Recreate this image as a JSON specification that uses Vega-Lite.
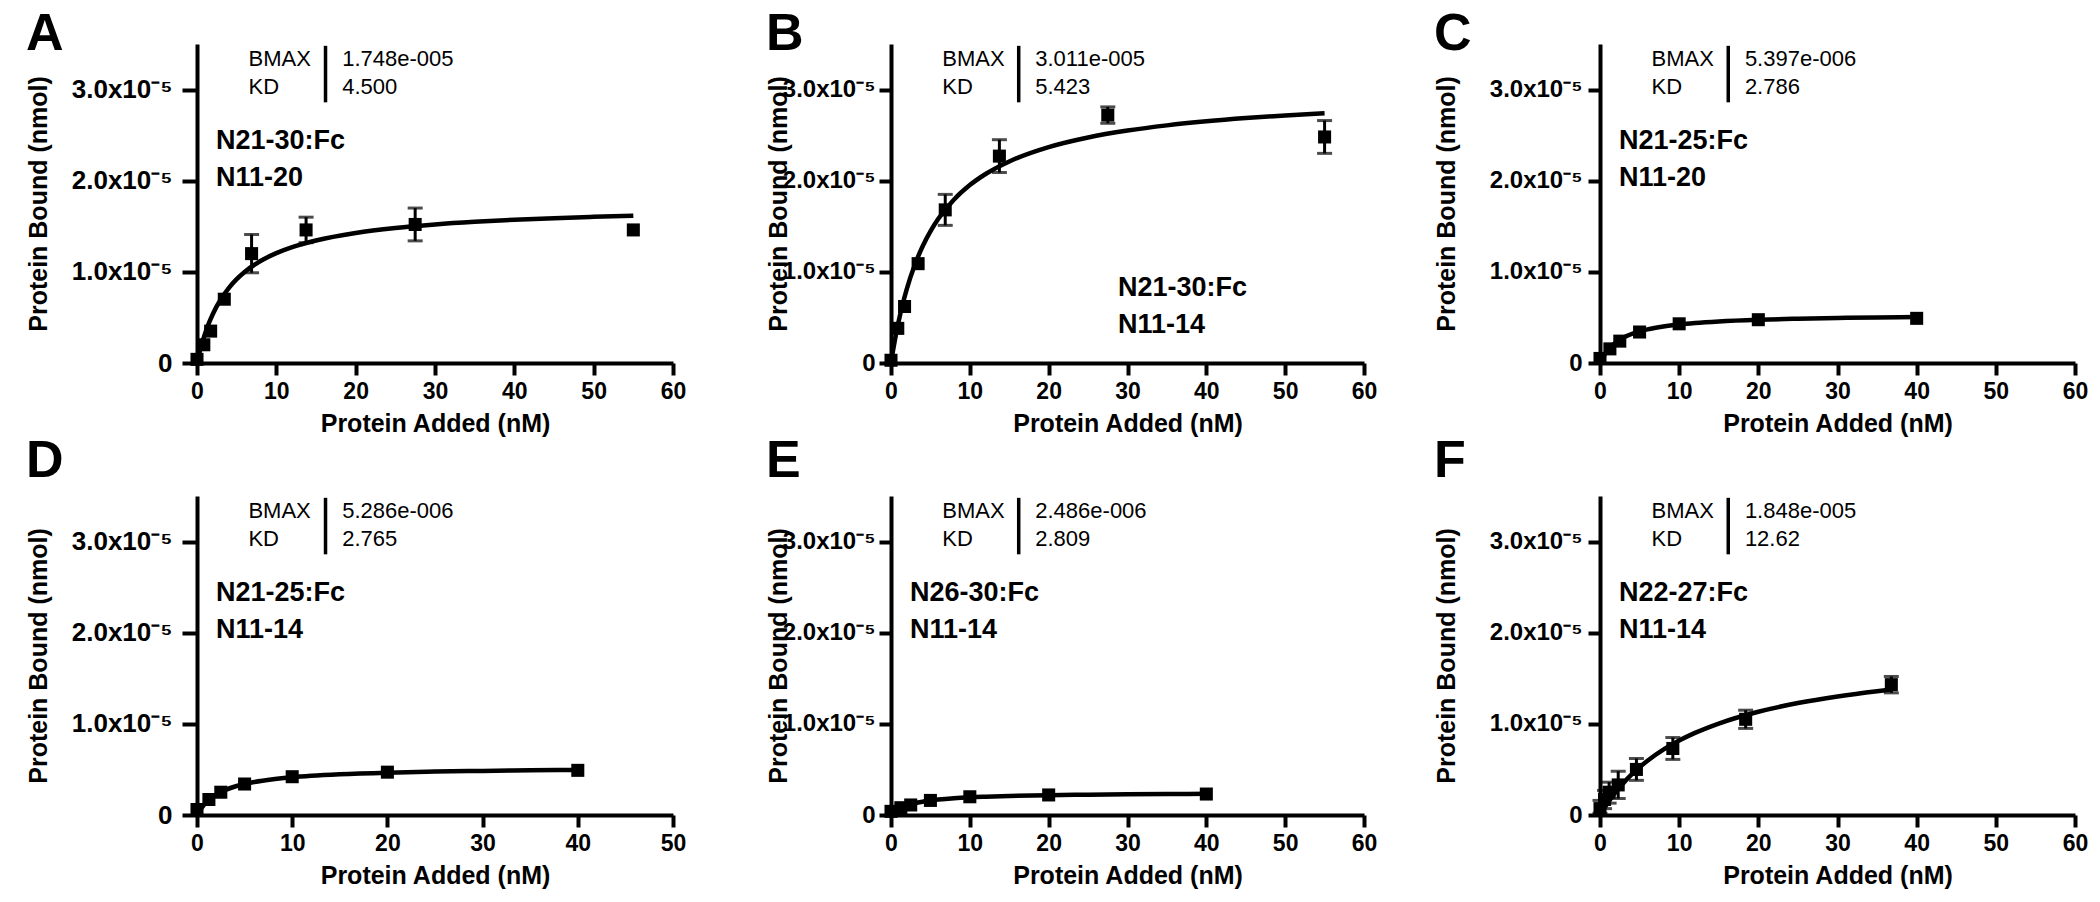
{
  "$schema": "https://vega.github.io/schema/vega-lite/v6.json",
  "background": "white",
  "padding": {"left": 25, "top": 8, "right": 5, "bottom": 5},
  "datasets": {
    "points": [
      {"panel": "A", "conc": 0, "bound": 0.04e-5, "lo": null, "hi": null},
      {"panel": "A", "conc": 0.86, "bound": 0.2e-5, "lo": null, "hi": null},
      {"panel": "A", "conc": 1.72, "bound": 0.35e-5, "lo": null, "hi": null},
      {"panel": "A", "conc": 3.44, "bound": 0.7e-5, "lo": null, "hi": null},
      {"panel": "A", "conc": 6.88, "bound": 1.2e-5, "lo": 0.99e-5, "hi": 1.41e-5},
      {"panel": "A", "conc": 13.75, "bound": 1.46e-5, "lo": 1.32e-5, "hi": 1.6e-5},
      {"panel": "A", "conc": 27.5, "bound": 1.52e-5, "lo": 1.34e-5, "hi": 1.7e-5},
      {"panel": "A", "conc": 55, "bound": 1.46e-5, "lo": null, "hi": null},
      {"panel": "B", "conc": 0, "bound": 0.03e-5, "lo": null, "hi": null},
      {"panel": "B", "conc": 0.86, "bound": 0.38e-5, "lo": null, "hi": null},
      {"panel": "B", "conc": 1.72, "bound": 0.62e-5, "lo": null, "hi": null},
      {"panel": "B", "conc": 3.44, "bound": 1.09e-5, "lo": null, "hi": null},
      {"panel": "B", "conc": 6.88, "bound": 1.68e-5, "lo": 1.51e-5, "hi": 1.85e-5},
      {"panel": "B", "conc": 13.75, "bound": 2.27e-5, "lo": 2.09e-5, "hi": 2.45e-5},
      {"panel": "B", "conc": 27.5, "bound": 2.72e-5, "lo": 2.63e-5, "hi": 2.81e-5},
      {"panel": "B", "conc": 55, "bound": 2.48e-5, "lo": 2.3e-5, "hi": 2.66e-5},
      {"panel": "C", "conc": 0, "bound": 0.05e-5, "lo": null, "hi": null},
      {"panel": "C", "conc": 1.25, "bound": 0.155e-5, "lo": null, "hi": null},
      {"panel": "C", "conc": 2.5, "bound": 0.24e-5, "lo": null, "hi": null},
      {"panel": "C", "conc": 5, "bound": 0.34e-5, "lo": null, "hi": null},
      {"panel": "C", "conc": 10, "bound": 0.43e-5, "lo": null, "hi": null},
      {"panel": "C", "conc": 20, "bound": 0.475e-5, "lo": null, "hi": null},
      {"panel": "C", "conc": 40, "bound": 0.49e-5, "lo": null, "hi": null},
      {"panel": "D", "conc": 0, "bound": 0.06e-5, "lo": null, "hi": null},
      {"panel": "D", "conc": 1.25, "bound": 0.17e-5, "lo": null, "hi": null},
      {"panel": "D", "conc": 2.5, "bound": 0.25e-5, "lo": null, "hi": null},
      {"panel": "D", "conc": 5, "bound": 0.34e-5, "lo": null, "hi": null},
      {"panel": "D", "conc": 10, "bound": 0.42e-5, "lo": null, "hi": null},
      {"panel": "D", "conc": 20, "bound": 0.47e-5, "lo": null, "hi": null},
      {"panel": "D", "conc": 40, "bound": 0.49e-5, "lo": null, "hi": null},
      {"panel": "E", "conc": 0, "bound": 0.04e-5, "lo": null, "hi": null},
      {"panel": "E", "conc": 1.25, "bound": 0.08e-5, "lo": null, "hi": null},
      {"panel": "E", "conc": 2.5, "bound": 0.11e-5, "lo": null, "hi": null},
      {"panel": "E", "conc": 5, "bound": 0.16e-5, "lo": null, "hi": null},
      {"panel": "E", "conc": 10, "bound": 0.2e-5, "lo": null, "hi": null},
      {"panel": "E", "conc": 20, "bound": 0.22e-5, "lo": null, "hi": null},
      {"panel": "E", "conc": 40, "bound": 0.23e-5, "lo": null, "hi": null},
      {"panel": "F", "conc": 0, "bound": 0.07e-5, "lo": 0.02e-5, "hi": 0.16e-5},
      {"panel": "F", "conc": 0.575, "bound": 0.17e-5, "lo": 0.07e-5, "hi": 0.27e-5},
      {"panel": "F", "conc": 1.15, "bound": 0.25e-5, "lo": 0.13e-5, "hi": 0.36e-5},
      {"panel": "F", "conc": 2.3, "bound": 0.33e-5, "lo": 0.18e-5, "hi": 0.48e-5},
      {"panel": "F", "conc": 4.6, "bound": 0.5e-5, "lo": 0.38e-5, "hi": 0.62e-5},
      {"panel": "F", "conc": 9.2, "bound": 0.73e-5, "lo": 0.61e-5, "hi": 0.85e-5},
      {"panel": "F", "conc": 18.4, "bound": 1.05e-5, "lo": 0.95e-5, "hi": 1.15e-5},
      {"panel": "F", "conc": 36.8, "bound": 1.43e-5, "lo": 1.34e-5, "hi": 1.52e-5}
    ],
    "fit": [
      {"panel": "A", "conc": 0, "bound": 0},
      {"panel": "A", "conc": 0.25, "bound": 0.092e-5},
      {"panel": "A", "conc": 0.5, "bound": 0.1748e-5},
      {"panel": "A", "conc": 1, "bound": 0.3178e-5},
      {"panel": "A", "conc": 1.5, "bound": 0.437e-5},
      {"panel": "A", "conc": 2, "bound": 0.5378e-5},
      {"panel": "A", "conc": 3, "bound": 0.6992e-5},
      {"panel": "A", "conc": 4, "bound": 0.8226e-5},
      {"panel": "A", "conc": 5, "bound": 0.92e-5},
      {"panel": "A", "conc": 6, "bound": 0.9989e-5},
      {"panel": "A", "conc": 8, "bound": 1.1187e-5},
      {"panel": "A", "conc": 10, "bound": 1.2055e-5},
      {"panel": "A", "conc": 12, "bound": 1.2713e-5},
      {"panel": "A", "conc": 15, "bound": 1.3446e-5},
      {"panel": "A", "conc": 20, "bound": 1.4269e-5},
      {"panel": "A", "conc": 25, "bound": 1.4814e-5},
      {"panel": "A", "conc": 30, "bound": 1.52e-5},
      {"panel": "A", "conc": 35, "bound": 1.5489e-5},
      {"panel": "A", "conc": 40, "bound": 1.5712e-5},
      {"panel": "A", "conc": 45, "bound": 1.5891e-5},
      {"panel": "A", "conc": 50, "bound": 1.6037e-5},
      {"panel": "A", "conc": 55, "bound": 1.6158e-5},
      {"panel": "B", "conc": 0, "bound": 0},
      {"panel": "B", "conc": 0.25, "bound": 0.1327e-5},
      {"panel": "B", "conc": 0.5, "bound": 0.2542e-5},
      {"panel": "B", "conc": 1, "bound": 0.4688e-5},
      {"panel": "B", "conc": 1.5, "bound": 0.6524e-5},
      {"panel": "B", "conc": 2, "bound": 0.8113e-5},
      {"panel": "B", "conc": 3, "bound": 1.0724e-5},
      {"panel": "B", "conc": 4, "bound": 1.2781e-5},
      {"panel": "B", "conc": 5, "bound": 1.4444e-5},
      {"panel": "B", "conc": 6, "bound": 1.5816e-5},
      {"panel": "B", "conc": 8, "bound": 1.7945e-5},
      {"panel": "B", "conc": 10, "bound": 1.9523e-5},
      {"panel": "B", "conc": 12, "bound": 2.0738e-5},
      {"panel": "B", "conc": 15, "bound": 2.2115e-5},
      {"panel": "B", "conc": 20, "bound": 2.3687e-5},
      {"panel": "B", "conc": 25, "bound": 2.4743e-5},
      {"panel": "B", "conc": 30, "bound": 2.55e-5},
      {"panel": "B", "conc": 35, "bound": 2.6071e-5},
      {"panel": "B", "conc": 40, "bound": 2.6515e-5},
      {"panel": "B", "conc": 45, "bound": 2.6872e-5},
      {"panel": "B", "conc": 50, "bound": 2.7164e-5},
      {"panel": "B", "conc": 55, "bound": 2.7408e-5},
      {"panel": "C", "conc": 0, "bound": 0},
      {"panel": "C", "conc": 0.25, "bound": 0.0444e-5},
      {"panel": "C", "conc": 0.5, "bound": 0.0821e-5},
      {"panel": "C", "conc": 1, "bound": 0.1426e-5},
      {"panel": "C", "conc": 1.5, "bound": 0.1889e-5},
      {"panel": "C", "conc": 2, "bound": 0.2255e-5},
      {"panel": "C", "conc": 3, "bound": 0.2798e-5},
      {"panel": "C", "conc": 4, "bound": 0.3181e-5},
      {"panel": "C", "conc": 5, "bound": 0.3466e-5},
      {"panel": "C", "conc": 6, "bound": 0.3686e-5},
      {"panel": "C", "conc": 8, "bound": 0.4003e-5},
      {"panel": "C", "conc": 10, "bound": 0.4221e-5},
      {"panel": "C", "conc": 12, "bound": 0.438e-5},
      {"panel": "C", "conc": 15, "bound": 0.4552e-5},
      {"panel": "C", "conc": 20, "bound": 0.4737e-5},
      {"panel": "C", "conc": 25, "bound": 0.4856e-5},
      {"panel": "C", "conc": 30, "bound": 0.4938e-5},
      {"panel": "C", "conc": 35, "bound": 0.4999e-5},
      {"panel": "C", "conc": 40, "bound": 0.5046e-5},
      {"panel": "D", "conc": 0, "bound": 0},
      {"panel": "D", "conc": 0.25, "bound": 0.0438e-5},
      {"panel": "D", "conc": 0.5, "bound": 0.081e-5},
      {"panel": "D", "conc": 1, "bound": 0.1404e-5},
      {"panel": "D", "conc": 1.5, "bound": 0.1859e-5},
      {"panel": "D", "conc": 2, "bound": 0.2219e-5},
      {"panel": "D", "conc": 3, "bound": 0.2751e-5},
      {"panel": "D", "conc": 4, "bound": 0.3126e-5},
      {"panel": "D", "conc": 5, "bound": 0.3404e-5},
      {"panel": "D", "conc": 6, "bound": 0.3619e-5},
      {"panel": "D", "conc": 8, "bound": 0.3928e-5},
      {"panel": "D", "conc": 10, "bound": 0.4141e-5},
      {"panel": "D", "conc": 12, "bound": 0.4296e-5},
      {"panel": "D", "conc": 15, "bound": 0.4463e-5},
      {"panel": "D", "conc": 20, "bound": 0.4644e-5},
      {"panel": "D", "conc": 25, "bound": 0.476e-5},
      {"panel": "D", "conc": 30, "bound": 0.484e-5},
      {"panel": "D", "conc": 35, "bound": 0.4899e-5},
      {"panel": "D", "conc": 40, "bound": 0.4944e-5},
      {"panel": "E", "conc": 0, "bound": 0},
      {"panel": "E", "conc": 0.25, "bound": 0.0203e-5},
      {"panel": "E", "conc": 0.5, "bound": 0.0376e-5},
      {"panel": "E", "conc": 1, "bound": 0.0653e-5},
      {"panel": "E", "conc": 1.5, "bound": 0.0865e-5},
      {"panel": "E", "conc": 2, "bound": 0.1034e-5},
      {"panel": "E", "conc": 3, "bound": 0.1284e-5},
      {"panel": "E", "conc": 4, "bound": 0.146e-5},
      {"panel": "E", "conc": 5, "bound": 0.1592e-5},
      {"panel": "E", "conc": 6, "bound": 0.1693e-5},
      {"panel": "E", "conc": 8, "bound": 0.184e-5},
      {"panel": "E", "conc": 10, "bound": 0.1941e-5},
      {"panel": "E", "conc": 12, "bound": 0.2014e-5},
      {"panel": "E", "conc": 15, "bound": 0.2094e-5},
      {"panel": "E", "conc": 20, "bound": 0.218e-5},
      {"panel": "E", "conc": 25, "bound": 0.2235e-5},
      {"panel": "E", "conc": 30, "bound": 0.2273e-5},
      {"panel": "E", "conc": 35, "bound": 0.2301e-5},
      {"panel": "E", "conc": 40, "bound": 0.2323e-5},
      {"panel": "F", "conc": 0, "bound": 0},
      {"panel": "F", "conc": 0.25, "bound": 0.0359e-5},
      {"panel": "F", "conc": 0.5, "bound": 0.0704e-5},
      {"panel": "F", "conc": 1, "bound": 0.1357e-5},
      {"panel": "F", "conc": 1.5, "bound": 0.1963e-5},
      {"panel": "F", "conc": 2, "bound": 0.2528e-5},
      {"panel": "F", "conc": 3, "bound": 0.3549e-5},
      {"panel": "F", "conc": 4, "bound": 0.4448e-5},
      {"panel": "F", "conc": 5, "bound": 0.5244e-5},
      {"panel": "F", "conc": 6, "bound": 0.5955e-5},
      {"panel": "F", "conc": 8, "bound": 0.717e-5},
      {"panel": "F", "conc": 10, "bound": 0.817e-5},
      {"panel": "F", "conc": 12, "bound": 0.9007e-5},
      {"panel": "F", "conc": 15, "bound": 1.0036e-5},
      {"panel": "F", "conc": 20, "bound": 1.1331e-5},
      {"panel": "F", "conc": 25, "bound": 1.2281e-5},
      {"panel": "F", "conc": 30, "bound": 1.3008e-5},
      {"panel": "F", "conc": 35, "bound": 1.3582e-5},
      {"panel": "F", "conc": 36.8, "bound": 1.3761e-5}
    ],
    "notes": [
      {"panel": "A", "names": "BMAX\nKD", "fitted": "1.748e-005\n4.500", "label": "N21-30:Fc\nN11-20"},
      {"panel": "B", "names": "BMAX\nKD", "fitted": "3.011e-005\n5.423", "label": "N21-30:Fc\nN11-14"},
      {"panel": "C", "names": "BMAX\nKD", "fitted": "5.397e-006\n2.786", "label": "N21-25:Fc\nN11-20"},
      {"panel": "D", "names": "BMAX\nKD", "fitted": "5.286e-006\n2.765", "label": "N21-25:Fc\nN11-14"},
      {"panel": "E", "names": "BMAX\nKD", "fitted": "2.486e-006\n2.809", "label": "N26-30:Fc\nN11-14"},
      {"panel": "F", "names": "BMAX\nKD", "fitted": "1.848e-005\n12.62", "label": "N22-27:Fc\nN11-14"}
    ]
  },
  "concat": [
    {
      "width": 476, "height": 319,
      "title": {"text": "A", "offset": -17},
      "layer": [
        {"data": {"name": "fit"}, "transform": [{"filter": "datum.panel === 'A'"}], "mark": {"type": "line", "color": "black", "strokeWidth": 4.5, "interpolate": "monotone"},
         "encoding": {
          "x": {"field": "conc", "type": "quantitative", "title": "Protein Added (nM)", "scale": {"domain": [0, 60], "nice": false}, "axis": {"values": [0, 10, 20, 30, 40, 50, 60]}},
          "y": {"field": "bound", "type": "quantitative", "title": "Protein Bound (nmol)", "scale": {"domain": [0, 3.5e-5], "nice": false}, "axis": {"values": [0, 1e-5, 2e-5, 3e-5], "labelExpr": "datum.value === 0 ? '0' : format(datum.value * 100000, '.1f') + 'x10⁻⁵'", "titleX": -146, "tickSize": 15, "labelPadding": 10, "labelFontSize": 26}}
         }},
        {"data": {"name": "points"}, "transform": [{"filter": "datum.panel === 'A'"}], "mark": {"type": "rule", "color": "black", "strokeWidth": 3},
         "encoding": {"x": {"field": "conc", "type": "quantitative", "title": "Protein Added (nM)"}, "y": {"field": "lo", "type": "quantitative", "title": "Protein Bound (nmol)"}, "y2": {"field": "hi"}}},
        {"data": {"name": "points"}, "transform": [{"filter": "datum.panel === 'A'"}], "mark": {"type": "tick", "orient": "horizontal", "color": "black", "thickness": 3, "size": 15},
         "encoding": {"x": {"field": "conc", "type": "quantitative", "title": "Protein Added (nM)"}, "y": {"field": "lo", "type": "quantitative", "title": "Protein Bound (nmol)"}}},
        {"data": {"name": "points"}, "transform": [{"filter": "datum.panel === 'A'"}], "mark": {"type": "tick", "orient": "horizontal", "color": "black", "thickness": 3, "size": 15},
         "encoding": {"x": {"field": "conc", "type": "quantitative", "title": "Protein Added (nM)"}, "y": {"field": "hi", "type": "quantitative", "title": "Protein Bound (nmol)"}}},
        {"data": {"name": "points"}, "transform": [{"filter": "datum.panel === 'A'"}], "mark": {"type": "point", "shape": "square", "filled": true, "color": "black", "size": 170, "opacity": 1},
         "encoding": {"x": {"field": "conc", "type": "quantitative", "title": "Protein Added (nM)"}, "y": {"field": "bound", "type": "quantitative", "title": "Protein Bound (nmol)"}}},
        {"data": {"name": "notes"}, "transform": [{"filter": "datum.panel === 'A'"}], "mark": {"type": "text", "align": "left", "baseline": "alphabetic", "fontSize": 22, "lineHeight": 28, "lineBreak": "\n", "color": "black"}, "encoding": {"x": {"datum": 6.5, "type": "quantitative"}, "y": {"datum": 3.26e-5, "type": "quantitative"}, "text": {"field": "names", "type": "nominal"}}},
        {"data": {"name": "notes"}, "transform": [{"filter": "datum.panel === 'A'"}], "mark": {"type": "text", "align": "left", "baseline": "alphabetic", "fontSize": 22, "lineHeight": 28, "lineBreak": "\n", "color": "black"}, "encoding": {"x": {"datum": 18.3, "type": "quantitative"}, "y": {"datum": 3.26e-5, "type": "quantitative"}, "text": {"field": "fitted", "type": "nominal"}}},
        {"data": {"name": "notes"}, "transform": [{"filter": "datum.panel === 'A'"}], "mark": {"type": "rule", "color": "black", "strokeWidth": 3.5}, "encoding": {"x": {"datum": 16.2, "type": "quantitative"}, "y": {"datum": 2.86e-5, "type": "quantitative"}, "y2": {"datum": 3.48e-5}}},
        {"data": {"name": "notes"}, "transform": [{"filter": "datum.panel === 'A'"}], "mark": {"type": "text", "align": "left", "baseline": "alphabetic", "fontSize": 27, "fontWeight": "bold", "lineHeight": 37, "lineBreak": "\n", "color": "black"}, "encoding": {"x": {"datum": 2.4, "type": "quantitative"}, "y": {"datum": 2.35e-5, "type": "quantitative"}, "text": {"field": "label", "type": "nominal"}}}
      ]
    },
    {
      "width": 491, "height": 319,
      "title": {"text": "B", "offset": -17},
      "layer": [
        {"data": {"name": "fit"}, "transform": [{"filter": "datum.panel === 'B'"}], "mark": {"type": "line", "color": "black", "strokeWidth": 4.5, "interpolate": "monotone"},
         "encoding": {
          "x": {"field": "conc", "type": "quantitative", "title": "Protein Added (nM)", "scale": {"domain": [0, 60], "nice": false, "range": [0, 473]}, "axis": {"values": [0, 10, 20, 30, 40, 50, 60]}},
          "y": {"field": "bound", "type": "quantitative", "title": "Protein Bound (nmol)", "scale": {"domain": [0, 3.5e-5], "nice": false}, "axis": {"values": [0, 1e-5, 2e-5, 3e-5], "labelExpr": "datum.value === 0 ? '0' : format(datum.value * 100000, '.1f') + 'x10⁻⁵'", "titleX": -100, "tickSize": 12, "labelPadding": 4}}
         }},
        {"data": {"name": "points"}, "transform": [{"filter": "datum.panel === 'B'"}], "mark": {"type": "rule", "color": "black", "strokeWidth": 3},
         "encoding": {"x": {"field": "conc", "type": "quantitative", "title": "Protein Added (nM)"}, "y": {"field": "lo", "type": "quantitative", "title": "Protein Bound (nmol)"}, "y2": {"field": "hi"}}},
        {"data": {"name": "points"}, "transform": [{"filter": "datum.panel === 'B'"}], "mark": {"type": "tick", "orient": "horizontal", "color": "black", "thickness": 3, "size": 15},
         "encoding": {"x": {"field": "conc", "type": "quantitative", "title": "Protein Added (nM)"}, "y": {"field": "lo", "type": "quantitative", "title": "Protein Bound (nmol)"}}},
        {"data": {"name": "points"}, "transform": [{"filter": "datum.panel === 'B'"}], "mark": {"type": "tick", "orient": "horizontal", "color": "black", "thickness": 3, "size": 15},
         "encoding": {"x": {"field": "conc", "type": "quantitative", "title": "Protein Added (nM)"}, "y": {"field": "hi", "type": "quantitative", "title": "Protein Bound (nmol)"}}},
        {"data": {"name": "points"}, "transform": [{"filter": "datum.panel === 'B'"}], "mark": {"type": "point", "shape": "square", "filled": true, "color": "black", "size": 170, "opacity": 1},
         "encoding": {"x": {"field": "conc", "type": "quantitative", "title": "Protein Added (nM)"}, "y": {"field": "bound", "type": "quantitative", "title": "Protein Bound (nmol)"}}},
        {"data": {"name": "notes"}, "transform": [{"filter": "datum.panel === 'B'"}], "mark": {"type": "text", "align": "left", "baseline": "alphabetic", "fontSize": 22, "lineHeight": 28, "lineBreak": "\n", "color": "black"}, "encoding": {"x": {"datum": 6.5, "type": "quantitative"}, "y": {"datum": 3.26e-5, "type": "quantitative"}, "text": {"field": "names", "type": "nominal"}}},
        {"data": {"name": "notes"}, "transform": [{"filter": "datum.panel === 'B'"}], "mark": {"type": "text", "align": "left", "baseline": "alphabetic", "fontSize": 22, "lineHeight": 28, "lineBreak": "\n", "color": "black"}, "encoding": {"x": {"datum": 18.3, "type": "quantitative"}, "y": {"datum": 3.26e-5, "type": "quantitative"}, "text": {"field": "fitted", "type": "nominal"}}},
        {"data": {"name": "notes"}, "transform": [{"filter": "datum.panel === 'B'"}], "mark": {"type": "rule", "color": "black", "strokeWidth": 3.5}, "encoding": {"x": {"datum": 16.2, "type": "quantitative"}, "y": {"datum": 2.86e-5, "type": "quantitative"}, "y2": {"datum": 3.48e-5}}},
        {"data": {"name": "notes"}, "transform": [{"filter": "datum.panel === 'B'"}], "mark": {"type": "text", "align": "left", "baseline": "alphabetic", "fontSize": 27, "fontWeight": "bold", "lineHeight": 37, "lineBreak": "\n", "color": "black"}, "encoding": {"x": {"datum": 28.8, "type": "quantitative"}, "y": {"datum": 0.73e-5, "type": "quantitative"}, "text": {"field": "label", "type": "nominal"}}}
      ]
    },
    {
      "width": 475, "height": 319,
      "title": {"text": "C", "offset": -17},
      "layer": [
        {"data": {"name": "fit"}, "transform": [{"filter": "datum.panel === 'C'"}], "mark": {"type": "line", "color": "black", "strokeWidth": 4.5, "interpolate": "monotone"},
         "encoding": {
          "x": {"field": "conc", "type": "quantitative", "title": "Protein Added (nM)", "scale": {"domain": [0, 60], "nice": false}, "axis": {"values": [0, 10, 20, 30, 40, 50, 60]}},
          "y": {"field": "bound", "type": "quantitative", "title": "Protein Bound (nmol)", "scale": {"domain": [0, 3.5e-5], "nice": false}, "axis": {"values": [0, 1e-5, 2e-5, 3e-5], "labelExpr": "datum.value === 0 ? '0' : format(datum.value * 100000, '.1f') + 'x10⁻⁵'", "titleX": -141, "tickSize": 12, "labelPadding": 6}}
         }},
        {"data": {"name": "points"}, "transform": [{"filter": "datum.panel === 'C'"}], "mark": {"type": "point", "shape": "square", "filled": true, "color": "black", "size": 170, "opacity": 1},
         "encoding": {"x": {"field": "conc", "type": "quantitative", "title": "Protein Added (nM)"}, "y": {"field": "bound", "type": "quantitative", "title": "Protein Bound (nmol)"}}},
        {"data": {"name": "notes"}, "transform": [{"filter": "datum.panel === 'C'"}], "mark": {"type": "text", "align": "left", "baseline": "alphabetic", "fontSize": 22, "lineHeight": 28, "lineBreak": "\n", "color": "black"}, "encoding": {"x": {"datum": 6.5, "type": "quantitative"}, "y": {"datum": 3.26e-5, "type": "quantitative"}, "text": {"field": "names", "type": "nominal"}}},
        {"data": {"name": "notes"}, "transform": [{"filter": "datum.panel === 'C'"}], "mark": {"type": "text", "align": "left", "baseline": "alphabetic", "fontSize": 22, "lineHeight": 28, "lineBreak": "\n", "color": "black"}, "encoding": {"x": {"datum": 18.3, "type": "quantitative"}, "y": {"datum": 3.26e-5, "type": "quantitative"}, "text": {"field": "fitted", "type": "nominal"}}},
        {"data": {"name": "notes"}, "transform": [{"filter": "datum.panel === 'C'"}], "mark": {"type": "rule", "color": "black", "strokeWidth": 3.5}, "encoding": {"x": {"datum": 16.2, "type": "quantitative"}, "y": {"datum": 2.86e-5, "type": "quantitative"}, "y2": {"datum": 3.48e-5}}},
        {"data": {"name": "notes"}, "transform": [{"filter": "datum.panel === 'C'"}], "mark": {"type": "text", "align": "left", "baseline": "alphabetic", "fontSize": 27, "fontWeight": "bold", "lineHeight": 37, "lineBreak": "\n", "color": "black"}, "encoding": {"x": {"datum": 2.4, "type": "quantitative"}, "y": {"datum": 2.35e-5, "type": "quantitative"}, "text": {"field": "label", "type": "nominal"}}}
      ]
    },
    {
      "width": 476, "height": 319,
      "title": {"text": "D", "offset": 8},
      "layer": [
        {"data": {"name": "fit"}, "transform": [{"filter": "datum.panel === 'D'"}], "mark": {"type": "line", "color": "black", "strokeWidth": 4.5, "interpolate": "monotone"},
         "encoding": {
          "x": {"field": "conc", "type": "quantitative", "title": "Protein Added (nM)", "scale": {"domain": [0, 50], "nice": false}, "axis": {"values": [0, 10, 20, 30, 40, 50]}},
          "y": {"field": "bound", "type": "quantitative", "title": "Protein Bound (nmol)", "scale": {"domain": [0, 3.5e-5], "nice": false}, "axis": {"values": [0, 1e-5, 2e-5, 3e-5], "labelExpr": "datum.value === 0 ? '0' : format(datum.value * 100000, '.1f') + 'x10⁻⁵'", "titleX": -146, "tickSize": 15, "labelPadding": 10, "labelFontSize": 26}}
         }},
        {"data": {"name": "points"}, "transform": [{"filter": "datum.panel === 'D'"}], "mark": {"type": "point", "shape": "square", "filled": true, "color": "black", "size": 170, "opacity": 1},
         "encoding": {"x": {"field": "conc", "type": "quantitative", "title": "Protein Added (nM)"}, "y": {"field": "bound", "type": "quantitative", "title": "Protein Bound (nmol)"}}},
        {"data": {"name": "notes"}, "transform": [{"filter": "datum.panel === 'D'"}], "mark": {"type": "text", "align": "left", "baseline": "alphabetic", "fontSize": 22, "lineHeight": 28, "lineBreak": "\n", "color": "black"}, "encoding": {"x": {"datum": 5.4, "type": "quantitative"}, "y": {"datum": 3.26e-5, "type": "quantitative"}, "text": {"field": "names", "type": "nominal"}}},
        {"data": {"name": "notes"}, "transform": [{"filter": "datum.panel === 'D'"}], "mark": {"type": "text", "align": "left", "baseline": "alphabetic", "fontSize": 22, "lineHeight": 28, "lineBreak": "\n", "color": "black"}, "encoding": {"x": {"datum": 15.25, "type": "quantitative"}, "y": {"datum": 3.26e-5, "type": "quantitative"}, "text": {"field": "fitted", "type": "nominal"}}},
        {"data": {"name": "notes"}, "transform": [{"filter": "datum.panel === 'D'"}], "mark": {"type": "rule", "color": "black", "strokeWidth": 3.5}, "encoding": {"x": {"datum": 13.5, "type": "quantitative"}, "y": {"datum": 2.86e-5, "type": "quantitative"}, "y2": {"datum": 3.48e-5}}},
        {"data": {"name": "notes"}, "transform": [{"filter": "datum.panel === 'D'"}], "mark": {"type": "text", "align": "left", "baseline": "alphabetic", "fontSize": 27, "fontWeight": "bold", "lineHeight": 37, "lineBreak": "\n", "color": "black"}, "encoding": {"x": {"datum": 2.0, "type": "quantitative"}, "y": {"datum": 2.35e-5, "type": "quantitative"}, "text": {"field": "label", "type": "nominal"}}}
      ]
    },
    {
      "width": 491, "height": 319,
      "title": {"text": "E", "offset": 8},
      "layer": [
        {"data": {"name": "fit"}, "transform": [{"filter": "datum.panel === 'E'"}], "mark": {"type": "line", "color": "black", "strokeWidth": 4.5, "interpolate": "monotone"},
         "encoding": {
          "x": {"field": "conc", "type": "quantitative", "title": "Protein Added (nM)", "scale": {"domain": [0, 60], "nice": false, "range": [0, 473]}, "axis": {"values": [0, 10, 20, 30, 40, 50, 60]}},
          "y": {"field": "bound", "type": "quantitative", "title": "Protein Bound (nmol)", "scale": {"domain": [0, 3.5e-5], "nice": false}, "axis": {"values": [0, 1e-5, 2e-5, 3e-5], "labelExpr": "datum.value === 0 ? '0' : format(datum.value * 100000, '.1f') + 'x10⁻⁵'", "titleX": -100, "tickSize": 12, "labelPadding": 4}}
         }},
        {"data": {"name": "points"}, "transform": [{"filter": "datum.panel === 'E'"}], "mark": {"type": "point", "shape": "square", "filled": true, "color": "black", "size": 170, "opacity": 1},
         "encoding": {"x": {"field": "conc", "type": "quantitative", "title": "Protein Added (nM)"}, "y": {"field": "bound", "type": "quantitative", "title": "Protein Bound (nmol)"}}},
        {"data": {"name": "notes"}, "transform": [{"filter": "datum.panel === 'E'"}], "mark": {"type": "text", "align": "left", "baseline": "alphabetic", "fontSize": 22, "lineHeight": 28, "lineBreak": "\n", "color": "black"}, "encoding": {"x": {"datum": 6.5, "type": "quantitative"}, "y": {"datum": 3.26e-5, "type": "quantitative"}, "text": {"field": "names", "type": "nominal"}}},
        {"data": {"name": "notes"}, "transform": [{"filter": "datum.panel === 'E'"}], "mark": {"type": "text", "align": "left", "baseline": "alphabetic", "fontSize": 22, "lineHeight": 28, "lineBreak": "\n", "color": "black"}, "encoding": {"x": {"datum": 18.3, "type": "quantitative"}, "y": {"datum": 3.26e-5, "type": "quantitative"}, "text": {"field": "fitted", "type": "nominal"}}},
        {"data": {"name": "notes"}, "transform": [{"filter": "datum.panel === 'E'"}], "mark": {"type": "rule", "color": "black", "strokeWidth": 3.5}, "encoding": {"x": {"datum": 16.2, "type": "quantitative"}, "y": {"datum": 2.86e-5, "type": "quantitative"}, "y2": {"datum": 3.48e-5}}},
        {"data": {"name": "notes"}, "transform": [{"filter": "datum.panel === 'E'"}], "mark": {"type": "text", "align": "left", "baseline": "alphabetic", "fontSize": 27, "fontWeight": "bold", "lineHeight": 37, "lineBreak": "\n", "color": "black"}, "encoding": {"x": {"datum": 2.4, "type": "quantitative"}, "y": {"datum": 2.35e-5, "type": "quantitative"}, "text": {"field": "label", "type": "nominal"}}}
      ]
    },
    {
      "width": 475, "height": 319,
      "title": {"text": "F", "offset": 8},
      "layer": [
        {"data": {"name": "fit"}, "transform": [{"filter": "datum.panel === 'F'"}], "mark": {"type": "line", "color": "black", "strokeWidth": 4.5, "interpolate": "monotone"},
         "encoding": {
          "x": {"field": "conc", "type": "quantitative", "title": "Protein Added (nM)", "scale": {"domain": [0, 60], "nice": false}, "axis": {"values": [0, 10, 20, 30, 40, 50, 60]}},
          "y": {"field": "bound", "type": "quantitative", "title": "Protein Bound (nmol)", "scale": {"domain": [0, 3.5e-5], "nice": false}, "axis": {"values": [0, 1e-5, 2e-5, 3e-5], "labelExpr": "datum.value === 0 ? '0' : format(datum.value * 100000, '.1f') + 'x10⁻⁵'", "titleX": -141, "tickSize": 12, "labelPadding": 6}}
         }},
        {"data": {"name": "points"}, "transform": [{"filter": "datum.panel === 'F'"}], "mark": {"type": "rule", "color": "black", "strokeWidth": 3},
         "encoding": {"x": {"field": "conc", "type": "quantitative", "title": "Protein Added (nM)"}, "y": {"field": "lo", "type": "quantitative", "title": "Protein Bound (nmol)"}, "y2": {"field": "hi"}}},
        {"data": {"name": "points"}, "transform": [{"filter": "datum.panel === 'F'"}], "mark": {"type": "tick", "orient": "horizontal", "color": "black", "thickness": 3, "size": 15},
         "encoding": {"x": {"field": "conc", "type": "quantitative", "title": "Protein Added (nM)"}, "y": {"field": "lo", "type": "quantitative", "title": "Protein Bound (nmol)"}}},
        {"data": {"name": "points"}, "transform": [{"filter": "datum.panel === 'F'"}], "mark": {"type": "tick", "orient": "horizontal", "color": "black", "thickness": 3, "size": 15},
         "encoding": {"x": {"field": "conc", "type": "quantitative", "title": "Protein Added (nM)"}, "y": {"field": "hi", "type": "quantitative", "title": "Protein Bound (nmol)"}}},
        {"data": {"name": "points"}, "transform": [{"filter": "datum.panel === 'F'"}], "mark": {"type": "point", "shape": "square", "filled": true, "color": "black", "size": 170, "opacity": 1},
         "encoding": {"x": {"field": "conc", "type": "quantitative", "title": "Protein Added (nM)"}, "y": {"field": "bound", "type": "quantitative", "title": "Protein Bound (nmol)"}}},
        {"data": {"name": "notes"}, "transform": [{"filter": "datum.panel === 'F'"}], "mark": {"type": "text", "align": "left", "baseline": "alphabetic", "fontSize": 22, "lineHeight": 28, "lineBreak": "\n", "color": "black"}, "encoding": {"x": {"datum": 6.5, "type": "quantitative"}, "y": {"datum": 3.26e-5, "type": "quantitative"}, "text": {"field": "names", "type": "nominal"}}},
        {"data": {"name": "notes"}, "transform": [{"filter": "datum.panel === 'F'"}], "mark": {"type": "text", "align": "left", "baseline": "alphabetic", "fontSize": 22, "lineHeight": 28, "lineBreak": "\n", "color": "black"}, "encoding": {"x": {"datum": 18.3, "type": "quantitative"}, "y": {"datum": 3.26e-5, "type": "quantitative"}, "text": {"field": "fitted", "type": "nominal"}}},
        {"data": {"name": "notes"}, "transform": [{"filter": "datum.panel === 'F'"}], "mark": {"type": "rule", "color": "black", "strokeWidth": 3.5}, "encoding": {"x": {"datum": 16.2, "type": "quantitative"}, "y": {"datum": 2.86e-5, "type": "quantitative"}, "y2": {"datum": 3.48e-5}}},
        {"data": {"name": "notes"}, "transform": [{"filter": "datum.panel === 'F'"}], "mark": {"type": "text", "align": "left", "baseline": "alphabetic", "fontSize": 27, "fontWeight": "bold", "lineHeight": 37, "lineBreak": "\n", "color": "black"}, "encoding": {"x": {"datum": 2.4, "type": "quantitative"}, "y": {"datum": 2.35e-5, "type": "quantitative"}, "text": {"field": "label", "type": "nominal"}}}
      ]
    }
  ],
  "columns": 3,
  "spacing": {"column": 218, "row": 133},
  "bounds": "flush",
  "config": {
    "font": "Liberation Sans",
    "view": {"stroke": null},
    "title": {"anchor": "start", "frame": "bounds", "fontSize": 52, "fontWeight": "bold", "color": "black", "font": "Liberation Sans"},
    "axis": {
      "grid": false, "domainColor": "black", "domainWidth": 4, "tickColor": "black", "tickWidth": 4,
      "labelColor": "black", "labelFont": "Liberation Sans", "labelFontWeight": "bold", "labelFontSize": 24,
      "labelOverlap": false, "labelFlush": false,
      "titleColor": "black", "titleFont": "Liberation Sans", "titleFontWeight": "bold", "titleFontSize": 25
    },
    "axisX": {"tickSize": 12, "labelPadding": 5, "titlePadding": 8, "labelFontSize": 23},
    "axisY": {"tickSize": 12, "labelPadding": 5}
  }
}
